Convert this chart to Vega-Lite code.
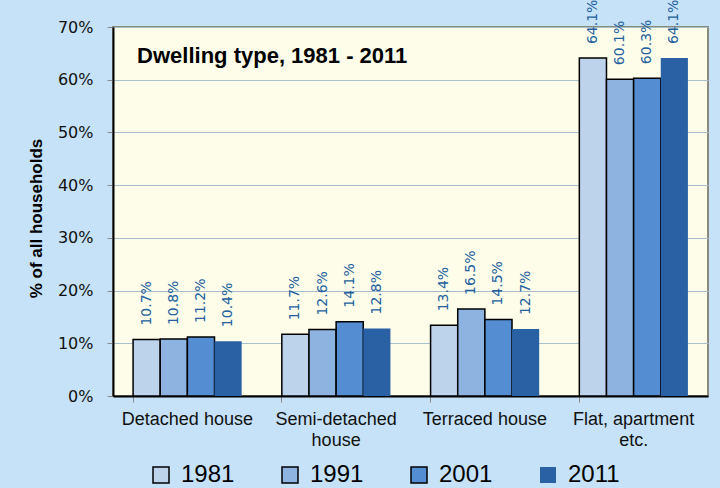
{
  "$schema": "https://vega.github.io/schema/vega-lite/v6.json",
  "autosize": "none",
  "width": 595,
  "height": 369,
  "padding": {"left": 113, "top": 27, "right": 12, "bottom": 92},
  "background": "#C5E2F8",
  "config": {
    "view": {"fill": "#FDFDEA", "stroke": "#8A8A7A", "strokeWidth": 2},
    "axis": {"labelColor": "#111", "titleColor": "#000"}
  },
  "data": {
    "values": [
      {"type": "Detached house", "year": "1981", "share": 0.107},
      {"type": "Detached house", "year": "1991", "share": 0.108},
      {"type": "Detached house", "year": "2001", "share": 0.112},
      {"type": "Detached house", "year": "2011", "share": 0.104},
      {"type": "Semi-detached house", "year": "1981", "share": 0.117},
      {"type": "Semi-detached house", "year": "1991", "share": 0.126},
      {"type": "Semi-detached house", "year": "2001", "share": 0.141},
      {"type": "Semi-detached house", "year": "2011", "share": 0.128},
      {"type": "Terraced house", "year": "1981", "share": 0.134},
      {"type": "Terraced house", "year": "1991", "share": 0.165},
      {"type": "Terraced house", "year": "2001", "share": 0.145},
      {"type": "Terraced house", "year": "2011", "share": 0.127},
      {"type": "Flat, apartment etc.", "year": "1981", "share": 0.641},
      {"type": "Flat, apartment etc.", "year": "1991", "share": 0.601},
      {"type": "Flat, apartment etc.", "year": "2001", "share": 0.603},
      {"type": "Flat, apartment etc.", "year": "2011", "share": 0.641}
    ]
  },
  "encoding": {
    "x": {
      "field": "type",
      "type": "nominal",
      "sort": ["Detached house", "Semi-detached house", "Terraced house", "Flat, apartment etc."],
      "scale": {"paddingInner": 0.27, "paddingOuter": 0.135},
      "axis": {
        "title": null,
        "labelAngle": 0,
        "labelFont": "Liberation Sans",
        "labelFontSize": 18,
        "labelPadding": 8,
        "labelLineHeight": 21,
        "labelBaseline": "top",
        "labelExpr": "datum.value == 'Semi-detached house' ? ['Semi-detached', 'house'] : datum.value == 'Flat, apartment etc.' ? ['Flat, apartment', 'etc.'] : datum.value",
        "bandPosition": 0,
        "tickColor": "#888",
        "tickSize": 6,
        "domainColor": "#000",
        "domainWidth": 2
      }
    },
    "y": {
      "field": "share",
      "type": "quantitative",
      "scale": {"domain": [0, 0.7]},
      "axis": {
        "title": "% of all households",
        "titleFont": "Liberation Sans",
        "titleFontSize": 17,
        "titleFontWeight": "bold",
        "titleY": 191,
        "titleX": -72,
        "titleAlign": "center",
        "titleBaseline": "alphabetic",
        "format": ".0%",
        "values": [0, 0.1, 0.2, 0.3, 0.4, 0.5, 0.6, 0.7],
        "labelFont": "DejaVu Sans",
        "labelFontSize": 16,
        "labelPadding": 14,
        "tickColor": "#888",
        "tickSize": 6,
        "gridColor": "#A6BFCF",
        "gridWidth": 1,
        "domainColor": "#000",
        "domainWidth": 2
      }
    }
  },
  "layer": [
    {
      "mark": {"type": "bar", "stroke": "#000"},
      "encoding": {
        "xOffset": {"field": "year", "type": "nominal", "sort": ["1981", "1991", "2001", "2011"]},
        "color": {
          "field": "year",
          "type": "nominal",
          "scale": {
            "domain": ["1981", "1991", "2001", "2011"],
            "range": ["#BDD3EC", "#8DB3E1", "#558DD3", "#2A61A5"]
          },
          "legend": {
            "title": null,
            "orient": "none",
            "direction": "horizontal",
            "legendX": 36,
            "legendY": 436,
            "symbolType": "square",
            "symbolSize": 256,
            "symbolStrokeColor": "#000",
            "symbolStrokeWidth": 1.5,
            "symbolOpacity": 1,
            "labelFont": "Liberation Sans",
            "labelFontSize": 24,
            "labelColor": "#000",
            "labelOffset": 8,
            "columnPadding": 43,
            "encode": {
              "symbols": {
                "update": {
                  "strokeWidth": {"signal": "datum.value == '2011' ? 0 : 1.5"},
                  "stroke": {"value": "#000"}
                }
              }
            }
          }
        },
        "strokeWidth": {
          "condition": {"test": "datum.year == '2011'", "value": 0},
          "value": 1.5
        }
      }
    },
    {
      "mark": {
        "type": "text",
        "angle": 270,
        "align": "left",
        "baseline": "middle",
        "dx": 14,
        "font": "DejaVu Sans",
        "fontSize": 14,
        "color": "#23609D"
      },
      "encoding": {
        "xOffset": {"field": "year", "type": "nominal", "sort": ["1981", "1991", "2001", "2011"]},
        "text": {"field": "share", "type": "quantitative", "format": ".1%"}
      }
    },
    {
      "data": {"values": [{"type": "Detached house", "share": 0.632, "heading": "Dwelling type, 1981 - 2011"}]},
      "mark": {
        "type": "text",
        "align": "left",
        "baseline": "alphabetic",
        "dx": 4,
        "font": "Liberation Sans",
        "fontSize": 22,
        "fontWeight": "bold",
        "color": "#000"
      },
      "encoding": {
        "x": {"field": "type", "type": "nominal", "bandPosition": 0},
        "text": {"field": "heading"}
      }
    }
  ]
}
